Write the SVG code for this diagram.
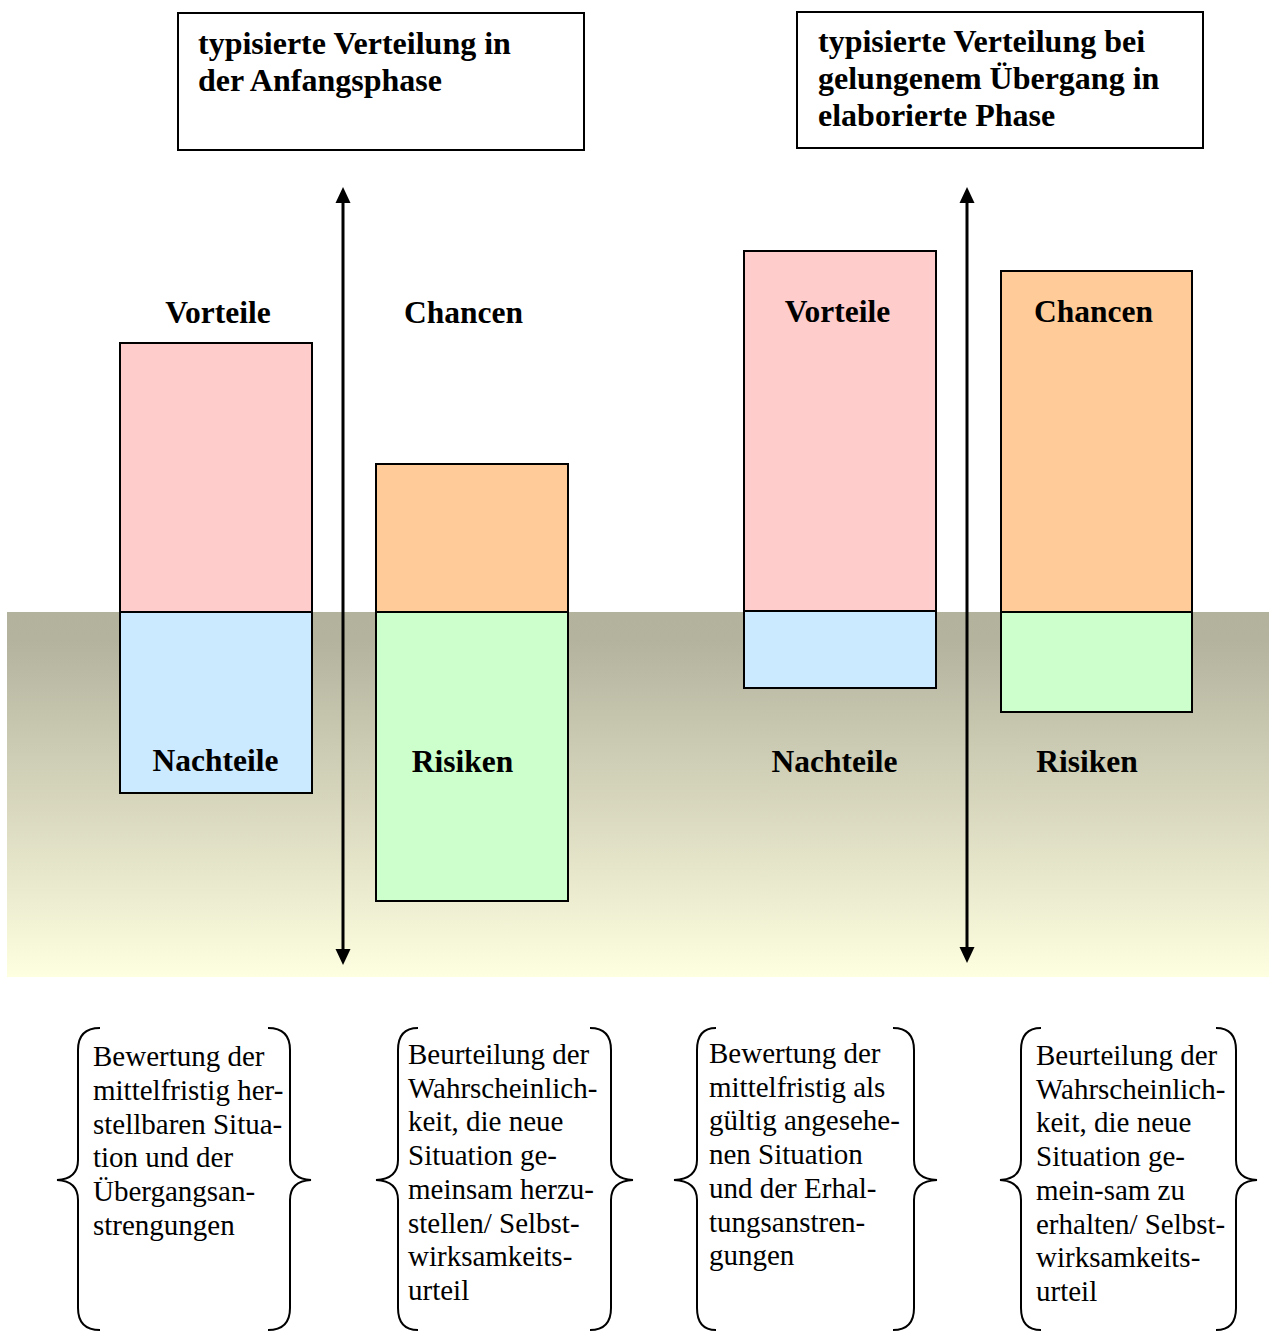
<svg xmlns="http://www.w3.org/2000/svg" width="1269" height="1331" viewBox="0 0 1269 1331">
<style>
.box{fill:#fff;stroke:#000;stroke-width:2}
.bar{stroke:#000;stroke-width:2}
.pink{fill:#ffcccc}.blue{fill:#cceaff}.orange{fill:#ffcc99}.green{fill:#ccffcc}
.title{font-family:"Liberation Serif",serif;font-weight:bold;font-size:32px;fill:#000}
.lbl{font-family:"Liberation Serif",serif;font-weight:bold;font-size:31.5px;fill:#000;text-anchor:middle}
.body{font-family:"Liberation Serif",serif;font-size:29px;fill:#000}
.brace{fill:none;stroke:#000;stroke-width:2}
.axis{stroke:#000;stroke-width:3;fill:none}
</style>
<defs>
<linearGradient id="band" x1="0" y1="0" x2="0" y2="1">
<stop offset="0" stop-color="#b3b29d"/>
<stop offset="0.08" stop-color="#b4b39e"/>
<stop offset="1" stop-color="#fefee0"/>
</linearGradient>
<marker id="ah" viewBox="0 0 10 10" refX="10" refY="5" markerWidth="5" markerHeight="5" markerUnits="strokeWidth" orient="auto-start-reverse">
<path d="M0,0 L10,5 L0,10 Z" fill="#000"/>
</marker>
</defs>
<rect width="1269" height="1331" fill="#fff"/>
<rect x="7" y="612" width="1262" height="365" fill="url(#band)"/>

<g id="title-left">
<rect class="box" x="178" y="13" width="406" height="137"/>
<text class="title" x="198" y="54">typisierte Verteilung in</text>
<text class="title" x="198" y="91">der Anfangsphase</text>
</g>
<g id="title-right">
<rect class="box" x="797" y="12" width="406" height="136"/>
<text class="title" x="818" y="52">typisierte Verteilung bei</text>
<text class="title" x="818" y="89">gelungenem Übergang in</text>
<text class="title" x="818" y="126">elaborierte Phase</text>
</g>

<g id="connectors">
<line class="axis" x1="343" y1="202" x2="343" y2="951" />
<path d="M343,187 L335.5,203 L350.5,203 Z" fill="#000"/>
<path d="M343,965 L335.5,949 L350.5,949 Z" fill="#000"/>
<line class="axis" x1="967" y1="202" x2="967" y2="949" />
<path d="M967,187 L959.5,203 L974.5,203 Z" fill="#000"/>
<path d="M967,963 L959.5,947 L974.5,947 Z" fill="#000"/>
</g>

<g id="left-vorteile">
<rect class="bar pink" x="120" y="343" width="192" height="269"/>
<text class="lbl" x="218" y="323">Vorteile</text>
</g>
<g id="left-nachteile">
<rect class="bar blue" x="120" y="612" width="192" height="181"/>
<text class="lbl" x="215.5" y="771">Nachteile</text>
</g>
<g id="left-chancen">
<rect class="bar orange" x="376" y="464" width="192" height="148"/>
<text class="lbl" x="463.5" y="323">Chancen</text>
</g>
<g id="left-risiken">
<rect class="bar green" x="376" y="612" width="192" height="289"/>
<text class="lbl" x="462.5" y="772">Risiken</text>
</g>

<g id="right-vorteile">
<rect class="bar pink" x="744" y="251" width="192" height="360"/>
<text class="lbl" x="837.5" y="322">Vorteile</text>
</g>
<g id="right-nachteile">
<rect class="bar blue" x="744" y="611" width="192" height="77"/>
<text class="lbl" x="834.5" y="772">Nachteile</text>
</g>
<g id="right-chancen">
<rect class="bar orange" x="1001" y="271" width="191" height="341"/>
<text class="lbl" x="1093.5" y="322">Chancen</text>
</g>
<g id="right-risiken">
<rect class="bar green" x="1001" y="612" width="191" height="100"/>
<text class="lbl" x="1087" y="772">Risiken</text>
</g>

<g id="note1">
<path class="brace" d="M100,1028 Q78,1028 78,1050 L78,1160 Q78,1179 57,1180 Q78,1181 78,1200 L78,1308 Q78,1330 100,1330"/>
<path class="brace" d="M268,1028 Q290,1028 290,1050 L290,1160 Q290,1179 311,1180 Q290,1181 290,1200 L290,1308 Q290,1330 268,1330"/>
<text class="body" x="93" y="1066">Bewertung der</text>
<text class="body" x="93" y="1100">mittelfristig her-</text>
<text class="body" x="93" y="1134">stellbaren Situa-</text>
<text class="body" x="93" y="1167">tion und der</text>
<text class="body" x="93" y="1201">Übergangsan-</text>
<text class="body" x="93" y="1235">strengungen</text>
</g>
<g id="note2">
<path class="brace" d="M418,1028 Q398,1028 398,1050 L398,1160 Q398,1179 376,1180 Q398,1181 398,1200 L398,1308 Q398,1330 418,1330"/>
<path class="brace" d="M590,1028 Q611,1028 611,1050 L611,1160 Q611,1179 633,1180 Q611,1181 611,1200 L611,1308 Q611,1330 590,1330"/>
<text class="body" x="408" y="1064">Beurteilung der</text>
<text class="body" x="408" y="1098">Wahrscheinlich-</text>
<text class="body" x="408" y="1131">keit, die neue</text>
<text class="body" x="408" y="1165">Situation ge-</text>
<text class="body" x="408" y="1199">meinsam herzu-</text>
<text class="body" x="408" y="1233">stellen/ Selbst-</text>
<text class="body" x="408" y="1266">wirksamkeits-</text>
<text class="body" x="408" y="1300">urteil</text>
</g>
<g id="note3">
<path class="brace" d="M716,1028 Q697,1028 697,1050 L697,1160 Q697,1179 674,1180 Q697,1181 697,1200 L697,1308 Q697,1330 716,1330"/>
<path class="brace" d="M893,1028 Q914,1028 914,1050 L914,1160 Q914,1179 937,1180 Q914,1181 914,1200 L914,1308 Q914,1330 893,1330"/>
<text class="body" x="709" y="1063">Bewertung der</text>
<text class="body" x="709" y="1097">mittelfristig als</text>
<text class="body" x="709" y="1130">gültig angesehe-</text>
<text class="body" x="709" y="1164">nen Situation</text>
<text class="body" x="709" y="1198">und der Erhal-</text>
<text class="body" x="709" y="1232">tungsanstren-</text>
<text class="body" x="709" y="1265">gungen</text>
</g>
<g id="note4">
<path class="brace" d="M1041,1028 Q1021,1028 1021,1050 L1021,1160 Q1021,1179 1000,1180 Q1021,1181 1021,1200 L1021,1308 Q1021,1330 1041,1330"/>
<path class="brace" d="M1216,1028 Q1236,1028 1236,1050 L1236,1160 Q1236,1179 1257,1180 Q1236,1181 1236,1200 L1236,1308 Q1236,1330 1216,1330"/>
<text class="body" x="1036" y="1065">Beurteilung der</text>
<text class="body" x="1036" y="1099">Wahrscheinlich-</text>
<text class="body" x="1036" y="1132">keit, die neue</text>
<text class="body" x="1036" y="1166">Situation ge-</text>
<text class="body" x="1036" y="1200">mein-sam zu</text>
<text class="body" x="1036" y="1234">erhalten/ Selbst-</text>
<text class="body" x="1036" y="1267">wirksamkeits-</text>
<text class="body" x="1036" y="1301">urteil</text>
</g>
</svg>
